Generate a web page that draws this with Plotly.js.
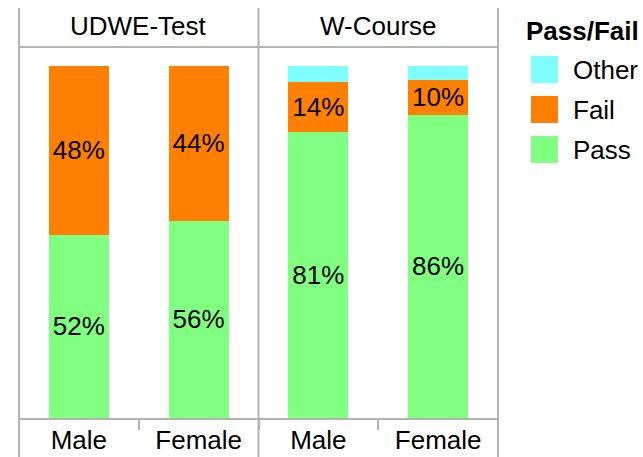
<!DOCTYPE html>
<html>
<head>
<meta charset="utf-8">
<script src="https://cdn.plot.ly/plotly-3.0.1.min.js"></script>
<style>html,body{margin:0;padding:0;background:#fff;}#chart{width:643px;height:457px;}</style>
</head>
<body>
<div id="chart"></div>
<script>
// ---- data ----
const courses = ['UDWE-Test', 'W-Course'];
const genders = ['Male', 'Female'];
const seriesNames = ['Pass', 'Fail', 'Other'];
const passUDWE = [52, 56];
const failUDWE = [48, 44];
const otherUDWE = [0, 0];
const passW = [81.3, 86.1];
const failW = [14.2, 10.0];
const otherW = [4.5, 3.9];
const legendTitle = 'Pass/Fail';

// ---- styles ----
const colors = {Pass: '#80FF80', Fail: '#FF8000', Other: '#80FFFF'};
const FONT = 'Liberation Sans, Arial, sans-serif';
const FS = 26;
const gray = '#b3b3b3';

const byCourse = [
  {Pass: passUDWE, Fail: failUDWE, Other: otherUDWE},
  {Pass: passW, Fail: failW, Other: otherW}
];

const traces = [];
byCourse.forEach((d, i) => {
  const ax = i === 0 ? 'x' : 'x2';
  seriesNames.forEach(s => {
    traces.push({
      type: 'bar',
      x: genders,
      y: d[s],
      xaxis: ax,
      yaxis: 'y',
      name: s,
      showlegend: false,
      marker: {color: colors[s], line: {width: 0}},
      width: 0.5,
      text: s === 'Other' ? d[s].map(() => '') : d[s].map(v => Math.round(v) + '%'),
      textposition: 'inside',
      insidetextanchor: 'middle',
      textangle: 0,
      constraintext: 'none',
      textfont: {family: FONT, size: FS, color: '#000'},
      hoverinfo: 'skip'
    });
  });
});

// geometry helpers (paper coords)
const H = 457, T = 47, B = 39;
const plotH = H - T - B;
const py = px => (H - B - px) / plotH;

const shapes = [];
const annotations = [];
// facet borders
[0, 0.5, 1].forEach(x => shapes.push({type: 'line', xref: 'paper', yref: 'paper', x0: x, x1: x, y0: py(457), y1: py(8), line: {color: gray, width: 2}}));
shapes.push({type: 'line', xref: 'paper', yref: 'paper', x0: 0, x1: 1, y0: 1, y1: 1, line: {color: gray, width: 2}});
courses.forEach((c, i) => {
  annotations.push({xref: 'paper', yref: 'paper', x: i * 0.5 + 0.25, y: py(26), text: c, showarrow: false,
    xanchor: 'center', yanchor: 'middle', font: {family: FONT, size: FS, color: '#000'}});
});

// custom legend
const W = 643, L = 19, R = 145;
const plotW = W - L - R;
const pxX = px => (px - L) / plotW;
annotations.push({xref: 'paper', yref: 'paper', x: pxX(524), y: py(31), text: '<b>' + legendTitle + '</b>', showarrow: false,
  xanchor: 'left', yanchor: 'middle', font: {family: FONT, size: FS, color: '#000'}});
const legendOrder = seriesNames.slice().reverse();
legendOrder.forEach((s, k) => {
  const top = 56 + k * 40;
  shapes.push({type: 'rect', xref: 'paper', yref: 'paper', x0: pxX(531), x1: pxX(558), y0: py(top + 27), y1: py(top), fillcolor: colors[s], line: {width: 0}});
  annotations.push({xref: 'paper', yref: 'paper', x: pxX(571), y: py(top + 14), text: s, showarrow: false,
    xanchor: 'left', yanchor: 'middle', font: {family: FONT, size: FS, color: '#000'}});
});

const xBase = {
  type: 'category', range: [-0.5, 1.5], fixedrange: true,
  showline: true, linecolor: gray, linewidth: 2, showgrid: false, zeroline: false,
  ticks: 'outside', tickson: 'boundaries', ticklen: 10, tickwidth: 2, tickcolor: gray,
  ticklabelstandoff: -2,
  tickfont: {family: FONT, size: FS, color: '#000'}, anchor: 'y'
};

const layout = {
  width: 643, height: 457,
  margin: {l: L, r: R, t: T, b: B, pad: 0},
  paper_bgcolor: '#fff', plot_bgcolor: '#fff',
  barmode: 'stack', showlegend: false,
  xaxis: Object.assign({}, xBase, {domain: [0, 0.5]}),
  xaxis2: Object.assign({}, xBase, {domain: [0.5, 1]}),
  yaxis: {range: [0, 100 * plotH / 352], visible: false, fixedrange: true},
  shapes: shapes,
  annotations: annotations,
  font: {family: FONT}
};

Plotly.newPlot('chart', traces, layout, {displayModeBar: false, staticPlot: true});
</script>
</body>
</html>
